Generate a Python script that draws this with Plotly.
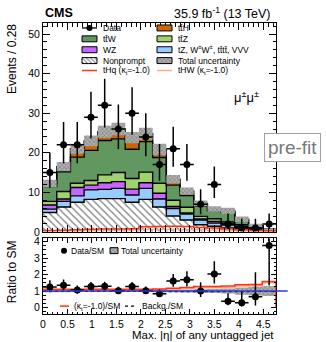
import numpy as np
import plotly.graph_objects as go

# ---------------- data ----------------
bin_width = 0.28
n_bins = 17
data = [15, 22, 22, 29, 32, 26, 30, 24, 17, 21, 17, 7, 12, 2, 1, 1, 2]
data_err_up = [4.97, 5.76, 5.76, 6.44, 6.71, 6.17, 6.53, 5.97, 5.2, 5.6, 5.2, 3.77, 4.55, 2.64, 2.3, 2.3, 2.64]
data_err_dn = [3.85, 4.66, 4.66, 5.37, 5.64, 5.08, 5.46, 4.87, 4.1, 4.55, 4.1, 2.58, 3.42, 1.29, 0.83, 0.83, 1.29]

nonprompt = [4.9, 6.3, 7.5, 8.2, 8.4, 8.4, 7.5, 8.2, 6.3, 4.0, 3.0, 1.8, 1.4, 1.0, 0.75, 0.55, 0.4]
tz_other = [0.85, 1.4, 1.6, 2.4, 2.35, 2.6, 1.8, 2.8, 2.0, 1.9, 1.5, 1.2, 0.8, 0.7, 0.45, 0.25, 0.1]
wz = [1.05, 0.6, 2.1, 1.2, 1.65, 1.7, 1.5, 1.4, 1.45, 0.5, 0.25, 0.25, 0.4, 0.3, 0.2, 0.1, 0.05]
ttz = [0.9, 1.9, 1.1, 1.2, 2.0, 2.3, 2.7, 2.7, 2.55, 1.6, 1.45, 0.65, 0.7, 0.5, 0.4, 0.2, 0.05]
ttw = [3.7, 5.0, 6.6, 7.6, 8.7, 8.5, 7.4, 7.7, 6.5, 3.8, 3.0, 2.6, 2.0, 2.4, 1.1, 0.35, 0.0]
tth = [0.8, 1.3, 2.1, 2.4, 2.2, 2.5, 2.9, 2.0, 2.0, 1.5, 1.1, 0.7, 0.5, 0.4, 0.3, 0.15, 0.05]
rel_unc = [0.08, 0.07, 0.06, 0.06, 0.06, 0.06, 0.06, 0.06, 0.07, 0.08, 0.09, 0.1, 0.12, 0.15, 0.22, 0.28, 0.3]

thq = [0.35, 0.4, 0.55, 0.65, 0.7, 0.75, 0.8, 1.3, 1.35, 1.4, 1.35, 1.1, 1.0, 0.75, 0.5, 0.35, 0.25]
thw = [0.2, 0.25, 0.3, 0.35, 0.4, 0.4, 0.45, 0.6, 0.6, 0.6, 0.55, 0.5, 0.45, 0.35, 0.25, 0.2, 0.1]

ratio_data = [1.24, 1.35, 1.06, 1.27, 1.29, 1.02, 1.27, 1.02, 0.84, 1.61, 1.69, 1.0, 2.04, 0.37, 0.29, 0.65, 3.78]
ratio_kt = [1.1, 1.1, 1.1, 1.1, 1.1, 1.1, 1.1, 1.1, 1.12, 1.17, 1.22, 1.28, 1.28, 1.3, 1.38, 1.4, 1.58]
ratio_kt2 = [1.05, 1.05, 1.05, 1.05, 1.05, 1.05, 1.05, 1.05, 1.07, 1.1, 1.15, 1.2, 1.2, 1.22, 1.3, 1.32, 1.5]
ratio_bkg = [0.98, 0.98, 0.98, 0.98, 0.98, 0.98, 0.98, 0.97, 0.97, 0.96, 0.96, 0.96, 0.96, 0.96, 0.96, 0.97, 0.97]

x_ticks = [0, 0.5, 1, 1.5, 2, 2.5, 3, 3.5, 4, 4.5]
x_tick_labels = ["0", "0.5", "1", "1.5", "2", "2.5", "3", "3.5", "4", "4.5"]

# ---------------- derived ----------------
edges = np.arange(n_bins + 1) * bin_width
centers = (edges[:-1] + edges[1:]) / 2

def step(v):
    v = list(v)
    return v + [v[-1]]

comps = [nonprompt, tz_other, wz, ttz, ttw, tth]
cum = np.cumsum(np.array(comps), axis=0)
total = cum[-1]

FONT = "Liberation Sans, Arial, Helvetica, sans-serif"
C_TTH = "rgb(204,102,0)"
C_TTW = "rgb(96,152,96)"
C_TTZ = "rgb(160,210,110)"
C_WZ = "rgb(200,100,255)"
C_TZ = "rgb(153,204,255)"
C_RED = "rgb(255,50,20)"
C_SAL = "rgb(255,170,140)"

L_PX, R_PX, T_PX, B_PX = 43, 276, 23, 317
PW, PH = R_PX - L_PX, B_PX - T_PX

fig = go.Figure()

# stacked components
np_pat = dict(shape="\\", fgcolor="black", bgcolor="white", size=5, solidity=0.25)
fill_colors = ["white", C_TZ, C_WZ, C_TTZ, C_TTW, C_TTH]
for i, fc in enumerate(fill_colors):
    kw = dict(x=edges, y=step(cum[i]), mode="lines", line=dict(color="black", width=1.4, shape="hv"),
              fill="tozeroy" if i == 0 else "tonexty", fillcolor=fc, hoverinfo="skip",
              showlegend=False, xaxis="x", yaxis="y")
    if i == 0:
        kw["fillpattern"] = np_pat
    fig.add_trace(go.Scatter(**kw))

# uncertainty band
band_pat = dict(shape="x", fgcolor="rgb(70,70,70)", bgcolor="rgb(175,175,175)", size=3, solidity=0.35)
fig.add_trace(go.Scatter(x=edges, y=step(total * (1 - np.array(rel_unc))), mode="lines",
                         line=dict(width=0, shape="hv"), showlegend=False, hoverinfo="skip"))
fig.add_trace(go.Scatter(x=edges, y=step(total * (1 + np.array(rel_unc))), mode="lines",
                         line=dict(width=0, shape="hv"), fill="tonexty", fillcolor="rgb(150,150,150)",
                         fillpattern=band_pat, showlegend=False, hoverinfo="skip"))

# signal lines
fig.add_trace(go.Scatter(x=edges, y=step(thw), mode="lines", line=dict(color=C_SAL, width=1.5, shape="hv"),
                         showlegend=False, hoverinfo="skip"))
fig.add_trace(go.Scatter(x=edges, y=step(thq), mode="lines", line=dict(color=C_RED, width=1.5, shape="hv"),
                         showlegend=False, hoverinfo="skip"))

# data
fig.add_trace(go.Scatter(x=centers, y=data, mode="markers", marker=dict(color="black", size=7),
                         error_y=dict(type="data", symmetric=False, array=data_err_up, arrayminus=data_err_dn,
                                      color="black", thickness=1.5, width=0),
                         error_x=dict(type="constant", value=bin_width / 2, color="black", thickness=1.5, width=0),
                         showlegend=False, xaxis="x", yaxis="y"))

# ---------------- ratio panel ----------------
fig.add_trace(go.Scatter(x=edges, y=step(1 - np.array(rel_unc)), mode="lines", line=dict(width=0, shape="hv"),
                         showlegend=False, hoverinfo="skip", xaxis="x2", yaxis="y2"))
fig.add_trace(go.Scatter(x=edges, y=step(1 + np.array(rel_unc)), mode="lines", line=dict(width=0, shape="hv"),
                         fill="tonexty", fillcolor="rgb(150,150,150)", fillpattern=band_pat,
                         showlegend=False, hoverinfo="skip", xaxis="x2", yaxis="y2"))
fig.add_trace(go.Scatter(x=list(edges) + [edges[-1]], y=list(ratio_kt2) + [ratio_kt2[-1], 0], mode="lines",
                         line=dict(color=C_SAL, width=1.5, shape="hv"),
                         showlegend=False, hoverinfo="skip", xaxis="x2", yaxis="y2"))
fig.add_trace(go.Scatter(x=list(edges) + [edges[-1]], y=list(ratio_kt) + [ratio_kt[-1], 0], mode="lines",
                         line=dict(color=C_RED, width=1.5, shape="hv"),
                         showlegend=False, hoverinfo="skip", xaxis="x2", yaxis="y2"))
fig.add_trace(go.Scatter(x=edges, y=step(ratio_bkg), mode="lines",
                         line=dict(color="black", width=1.2, dash="dot", shape="hv"),
                         showlegend=False, hoverinfo="skip", xaxis="x2", yaxis="y2"))
r_up = np.array(data_err_up) * np.array(ratio_data) / np.array(data)
r_dn = np.array(data_err_dn) * np.array(ratio_data) / np.array(data)
fig.add_trace(go.Scatter(x=centers, y=ratio_data, mode="markers", marker=dict(color="black", size=7),
                         error_y=dict(type="data", symmetric=False, array=r_up, arrayminus=r_dn,
                                      color="black", thickness=1.5, width=0),
                         error_x=dict(type="constant", value=bin_width / 2, color="black", thickness=1.5, width=0),
                         showlegend=False, xaxis="x2", yaxis="y2", cliponaxis=True))

# ---------------- legends (pixel overlay axes) ----------------
annotations = []

def box(x0, yc, w, h, fc, pattern=None):
    kw = dict(x=[x0, x0 + w, x0 + w, x0, x0], y=[yc - h / 2, yc - h / 2, yc + h / 2, yc + h / 2, yc - h / 2],
              mode="lines", fill="toself", fillcolor=fc, line=dict(color="black", width=1),
              showlegend=False, hoverinfo="skip", xaxis="x3", yaxis="y3")
    if pattern:
        kw["fillpattern"] = pattern
    fig.add_trace(go.Scatter(**kw))

def text(x, y, s, size=8.5, color="black", anchor="left"):
    annotations.append(dict(x=x, y=y, xref="x3", yref="y3", text=s, showarrow=False, xanchor=anchor,
                            yanchor="middle", font=dict(family=FONT, size=size, color=color)))

def px_x(px):
    return (px - L_PX) / PW

def px_y(py):
    return (B_PX - py) / PH

rows = [28, 39, 50, 61, 71]
lx, rx = 82, 157
# left column
fig.add_trace(go.Scatter(x=[lx, lx + 15], y=[rows[0], rows[0]], mode="lines", line=dict(color="black", width=1.3),
                         showlegend=False, hoverinfo="skip", xaxis="x3", yaxis="y3"))
fig.add_trace(go.Scatter(x=[lx + 7.5], y=[rows[0]], mode="markers", marker=dict(color="black", size=6),
                         showlegend=False, hoverinfo="skip", xaxis="x3", yaxis="y3"))
text(lx + 19, rows[0], "Data")
box(lx, rows[1], 15, 6, C_TTW)
text(lx + 19, rows[1], "tt\u0304W")
box(lx, rows[2], 15, 6, C_WZ)
text(lx + 19, rows[2], "WZ")
box(lx, rows[3], 15, 6, "white", dict(shape="\\", fgcolor="black", bgcolor="white", size=3, solidity=0.35))
text(lx + 19, rows[3], "Nonprompt")
fig.add_trace(go.Scatter(x=[lx, lx + 15], y=[rows[4], rows[4]], mode="lines", line=dict(color=C_RED, width=1.5),
                         showlegend=False, hoverinfo="skip", xaxis="x3", yaxis="y3"))
text(lx + 19, rows[4], "tHq (κ<sub>t</sub>=-1.0)")
# right column
box(rx, rows[0], 15, 6, C_TTH)
text(rx + 19, rows[0], "tt\u0304H")
box(rx, rows[1], 15, 6, C_TTZ)
text(rx + 19, rows[1], "tt\u0304Z")
box(rx, rows[2], 15, 6, C_TZ)
text(rx + 19, rows[2], "tZ, W<sup>±</sup>W<sup>±</sup>, tt\u0304tt\u0304, VVV")
box(rx, rows[3], 15, 6, "rgb(150,150,150)", band_pat)
text(rx + 19, rows[3], "Total uncertainty")
fig.add_trace(go.Scatter(x=[rx, rx + 15], y=[rows[4], rows[4]], mode="lines", line=dict(color=C_SAL, width=1.5),
                         showlegend=False, hoverinfo="skip", xaxis="x3", yaxis="y3"))
text(rx + 19, rows[4], "tHW (κ<sub>t</sub>=-1.0)")

# ratio legend
fig.add_trace(go.Scatter(x=[64], y=[253], mode="markers", marker=dict(color="black", size=6),
                         showlegend=False, hoverinfo="skip", xaxis="x3", yaxis="y3"))
text(69, 253, "Data/SM", size=8.5)
box(110, 253, 8, 6, "rgb(150,150,150)", band_pat)
text(119, 253, "Total uncertainty", size=8.5)
fig.add_trace(go.Scatter(x=[60, 69], y=[309, 309], mode="lines", line=dict(color=C_RED, width=1.5),
                         showlegend=False, hoverinfo="skip", xaxis="x3", yaxis="y3"))
text(72, 309, "(κ<sub>t</sub>=-1.0)/SM", size=8.5)
fig.add_trace(go.Scatter(x=[125, 137], y=[309, 309], mode="lines", line=dict(color="black", width=1.2, dash="dot"),
                         showlegend=False, hoverinfo="skip", xaxis="x3", yaxis="y3"))
text(140, 309, "Backg./SM", size=8.5)

# other texts
text(246, 98, "μ<sup>±</sup>μ<sup>±</sup>", size=13, anchor="center")
annotations += [
    dict(xref="paper", yref="paper", x=0.0, y=1.0, yshift=1, text="<b>CMS</b>", showarrow=False,
         xanchor="left", yanchor="bottom", font=dict(family=FONT, size=12.5, color="black")),
    dict(xref="paper", yref="paper", x=0.985, y=1.0, text="35.9 fb<sup>-1</sup> (13 TeV)", showarrow=False,
         xanchor="right", yanchor="bottom", font=dict(family=FONT, size=12.5, color="black")),
    dict(xref="paper", yref="paper", x=px_x(12), y=px_y(22), text="Events / 0.28", showarrow=False, textangle=-90,
         xanchor="center", yanchor="top", font=dict(family=FONT, size=12, color="black")),
    dict(xref="paper", yref="paper", x=px_x(12), y=px_y(241), text="Ratio to SM", showarrow=False,
         textangle=-90, xanchor="center", yanchor="top", font=dict(family=FONT, size=12, color="black")),
    dict(xref="paper", yref="paper", x=1.0, y=px_y(338.5), text="Max. |η| of any untagged jet",
         showarrow=False, xanchor="right", yanchor="middle", font=dict(family=FONT, size=11.5, color="black")),
    dict(xref="paper", yref="paper", x=px_x(292), y=px_y(149), text="pre-fit", showarrow=False,
         xanchor="center", yanchor="middle",
         font=dict(family=FONT, size=19, color="rgb(120,120,120)"), bgcolor="white",
         bordercolor="rgb(160,160,160)", borderwidth=1, borderpad=3),
]

axis_common = dict(showline=True, linecolor="black", linewidth=1, mirror="allticks", ticks="inside",
                   showgrid=False, zeroline=False, tickcolor="black",
                   tickfont=dict(family=FONT, size=10.5, color="black"))

fig.update_layout(
    width=326, height=342,
    margin=dict(l=L_PX, r=326 - R_PX, t=T_PX, b=342 - B_PX),
    paper_bgcolor="white", plot_bgcolor="rgba(0,0,0,0)",
    font=dict(family=FONT, color="black"),
    showlegend=False,
    xaxis=dict(domain=[0, 1], range=[0, edges[-1]], anchor="y", tickvals=x_ticks, showticklabels=False,
               ticklen=7, minor=dict(ticks="inside", dtick=0.1, ticklen=3.5, tickcolor="black"), **axis_common),
    yaxis=dict(domain=[px_y(234), 1], range=[0, 52.8], anchor="x", dtick=10, ticklen=7,
               minor=dict(ticks="inside", dtick=2, ticklen=3.5, tickcolor="black"), **axis_common),
    xaxis2=dict(domain=[0, 1], range=[0, edges[-1]], anchor="y2", tickvals=x_ticks, ticktext=x_tick_labels,
                ticklen=5, ticklabelstandoff=0,
                minor=dict(ticks="inside", dtick=0.1, ticklen=2.5, tickcolor="black"), **axis_common),
    yaxis2=dict(domain=[0, px_y(240.7)], range=[-0.4, 4.2], anchor="x2", dtick=1, ticklen=5,
                minor=dict(ticks="inside", dtick=0.25, ticklen=2.5, tickcolor="black"), **axis_common),
    xaxis3=dict(domain=[0, 1], range=[L_PX, R_PX], anchor="y3", visible=False, fixedrange=True),
    yaxis3=dict(domain=[0, 1], range=[B_PX, T_PX], anchor="x3", visible=False, fixedrange=True),
    annotations=annotations,
    shapes=[dict(type="line", xref="x2 domain", yref="y2", x0=0, x1=1.05, y0=1, y1=1,
                 line=dict(color="rgb(40,60,230)", width=1.5))],
)

fig.write_html("out.html")
